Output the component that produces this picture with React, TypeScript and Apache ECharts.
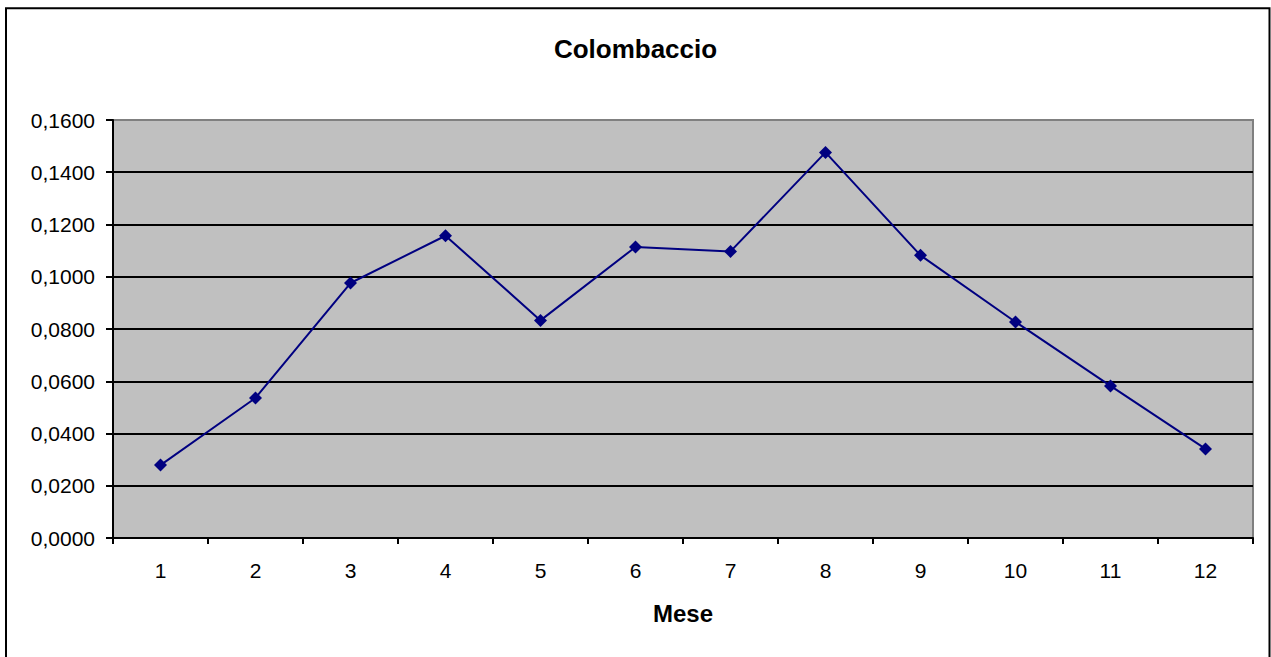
import React, { useEffect, useRef } from "react";
import * as echarts from "echarts";

const months = ["1", "2", "3", "4", "5", "6", "7", "8", "9", "10", "11", "12"];
const values = [0.0279, 0.0536, 0.0976, 0.1157, 0.0833, 0.1114, 0.1097, 0.1476, 0.1082, 0.0827, 0.0582, 0.0341];
const titleText = "Colombaccio";
const xName = "Mese";

export default function App() {
  const ref = useRef<HTMLDivElement>(null);
  useEffect(() => {
    const chart = echarts.init(ref.current!, null, { renderer: "svg" });
    chart.setOption({
      animation: false,
      backgroundColor: "#ffffff",
      textStyle: { fontFamily: "Liberation Sans, Arial, sans-serif" },
      title: {
        text: titleText,
        left: "center",
        top: 31,
        textStyle: { fontSize: 26, fontWeight: "bold", color: "#000", fontFamily: "Liberation Sans, Arial, sans-serif" },
      },
      graphic: [
        {
          type: "rect",
          shape: { x: 6, y: 8.3, width: 1263.5, height: 700 },
          style: { fill: "none", stroke: "#000", lineWidth: 2 },
          z: 100,
        },
      ],
      grid: {
        left: 113,
        top: 120,
        right: 18,
        bottom: 119,
        show: true,
        backgroundColor: "#C0C0C0",
        borderColor: "#808080",
        borderWidth: 2,
      },
      xAxis: {
        type: "category",
        data: months,
        boundaryGap: true,
        name: xName,
        nameLocation: "middle",
        nameGap: 63,
        nameTextStyle: { fontSize: 24, fontWeight: "bold", color: "#000", fontFamily: "Liberation Sans, Arial, sans-serif" },
        axisLine: { lineStyle: { color: "#000", width: 2 } },
        axisTick: { show: true, alignWithLabel: false, length: 6, lineStyle: { color: "#000", width: 2 } },
        axisLabel: { fontSize: 21, color: "#000", margin: 22, fontFamily: "Liberation Sans, Arial, sans-serif" },
        splitLine: { show: false },
      },
      yAxis: {
        type: "value",
        min: 0,
        max: 0.16,
        interval: 0.02,
        axisLine: { show: true, lineStyle: { color: "#000", width: 2 } },
        axisTick: { show: true, length: 7, lineStyle: { color: "#000", width: 2 } },
        axisLabel: {
          fontSize: 21,
          color: "#000",
          margin: 18,
          fontFamily: "Liberation Sans, Arial, sans-serif",
          formatter: (v: number) => v.toFixed(4).replace(".", ","),
        },
        splitLine: {
          show: true,
          lineStyle: {
            color: ["#000", "#000", "#000", "#000", "#000", "#000", "#000", "#000", "#808080"],
            width: 2,
          },
        },
      },
      series: [
        {
          type: "line",
          data: values,
          symbol: "diamond",
          symbolSize: 13,
          lineStyle: { color: "#000080", width: 2 },
          itemStyle: { color: "#000080" },
        },
      ],
    });
    return () => chart.dispose();
  }, []);
  return <div ref={ref} style={{ position: "fixed", left: 0, top: 0, width: 1271, height: 657 }} />;
}
